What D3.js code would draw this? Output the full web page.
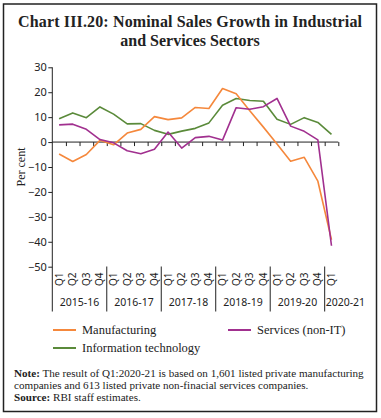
<!DOCTYPE html>
<html><head><meta charset="utf-8">
<script src="https://cdn.jsdelivr.net/npm/d3@7"></script>
<style>body{margin:0;background:#fff}svg{display:block}</style>
</head><body>
<script>
const years = ["2015-16","2016-17","2017-18","2018-19","2019-20","2020-21"];
const quartersPerYear = [4,4,4,4,4,1];
const manufacturing = [-4.8,-7.8,-5.0,0.7,-1.1,3.6,5.1,10.2,9.0,9.7,13.9,13.5,21.5,19.4,12.6,6.0,-0.8,-7.7,-6.1,-15.7,-39.2];
const servicesNonIT = [6.9,7.2,5.1,1.0,-0.3,-3.5,-4.7,-2.9,4.0,-2.4,1.8,2.3,0.8,13.8,13.2,14.2,17.5,6.4,4.3,0.9,-41.6];
const infoTech = [9.4,11.7,9.8,14.1,11.2,7.3,7.4,4.7,3.1,4.4,5.5,7.7,14.8,17.5,16.7,16.4,9.2,7.1,9.8,7.9,3.1];
const yTicks = [30,20,10,0,-10,-20,-30,-40,-50];
const seriesNames = ["Manufacturing","Services (non-IT)","Information technology"];
const seriesColors = ["#F5883C","#A1308F","#5A8A3A"];

const W = 381, H = 418;
const svg = d3.select("body").append("svg").attr("width", W).attr("height", H);
svg.append("rect").attr("x",3.5).attr("y",4).attr("width",373).attr("height",407.5)
  .attr("fill","none").attr("stroke","#222").attr("stroke-width",1.5);

const serif = "'Liberation Serif', 'DejaVu Serif', serif";
const sans = "'Noto Sans', 'Open Sans', sans-serif";
const fs = 16;
svg.append("text").attr("x",190).attr("y",27).attr("text-anchor","middle")
  .attr("font-family",serif).attr("font-weight","bold").attr("font-size",fs).attr("fill","#222")
  .attr("textLength",344).attr("lengthAdjust","spacing")
  .text("Chart III.20: Nominal Sales Growth in Industrial");
svg.append("text").attr("x",190).attr("y",45.5).attr("text-anchor","middle")
  .attr("font-family",serif).attr("font-weight","bold").attr("font-size",fs).attr("fill","#222")
  .text("and Services Sectors");

const labels = [];
years.forEach((yr,i)=>{ for(let q=1;q<=quartersPerYear[i];q++) labels.push({yr,q:"Q"+q}); });
const n = labels.length;
const x0 = 52.3, x1 = 338.3;
const xb = d3.scaleBand().domain(d3.range(n)).range([x0,x1]).padding(0);
const xl = d3.scaleLinear().domain([0,n]).range([x0,x1]);
const y = d3.scaleLinear().domain([-50,30]).range([266.7,67.3]);
const cx = i => xb(i)+xb.bandwidth()/2;

const ya = svg.append("g").attr("transform",`translate(${x0},0)`)
  .call(d3.axisLeft(y).tickValues(yTicks).tickSize(4).tickPadding(1.5));
ya.select(".domain").remove();
ya.selectAll(".tick line").attr("stroke","#222");
ya.selectAll("text").attr("font-family",sans).attr("font-size",11).attr("fill","#222");
svg.append("line").attr("x1",x0).attr("x2",x0).attr("y1",y(30)).attr("y2",311.5).attr("stroke","#222").attr("stroke-width",1);

svg.append("text").attr("transform",`translate(21,${y(-10)}) rotate(-90)`)
  .attr("text-anchor","middle").attr("dy","0.35em").attr("font-family",serif).attr("font-size",12).attr("fill","#222").text("Per cent");

const xa = svg.append("g").attr("transform",`translate(0,${y(0)})`)
  .call(d3.axisBottom(xl).tickValues(d3.range(1,n+1)).tickSize(4).tickFormat(""));
xa.select(".domain").attr("d",`M${x0},0H${x1}`).attr("stroke","#222");
xa.selectAll(".tick line").attr("stroke","#222");

svg.append("g").selectAll("text").data(labels).join("text")
  .attr("transform",(d,i)=>`translate(${cx(i)},272.5) rotate(-90)`)
  .attr("text-anchor","end").attr("dy","0.35em")
  .attr("font-family",sans).attr("font-size",10).attr("fill","#222").text(d=>d.q);

let acc = 0;
years.forEach((yr,i)=>{
  const start = acc, end = acc+quartersPerYear[i];
  const last = i===years.length-1;
  if(i>0) svg.append("line").attr("x1",xl(start)).attr("x2",xl(start)).attr("y1",266.5).attr("y2",311.5).attr("stroke","#222");
  svg.append("text").attr("x", last ? xl(start)+1 : (xl(start)+xl(end))/2).attr("y",306)
    .attr("text-anchor", last ? "start" : "middle").attr("font-family",sans).attr("font-size",10.5).attr("fill","#222").text(yr);
  acc = end;
});

const series = [manufacturing, servicesNonIT, infoTech];
const line = d3.line().x((d,i)=>cx(i)).y(d=>y(d));
[2,0,1].forEach(k=>{
  svg.append("path").datum(series[k]).attr("d",line).attr("fill","none")
    .attr("stroke",seriesColors[k]).attr("stroke-width",1.6).attr("stroke-linejoin","round");
});

const legPos = [[53,330],[228,330],[53,348]];
seriesNames.forEach((nm,k)=>{
  const [lx,ly] = legPos[k];
  svg.append("line").attr("x1",lx).attr("x2",lx+23).attr("y1",ly).attr("y2",ly)
    .attr("stroke",seriesColors[k]).attr("stroke-width",2);
  svg.append("text").attr("x",lx+29).attr("y",ly+4.3).attr("font-family",serif).attr("font-size",12.5)
    .attr("fill","#222").text(nm);
});

const n1 = svg.append("text").attr("x",14).attr("y",377).attr("font-family",serif).attr("font-size",9).attr("fill","#222");
n1.append("tspan").attr("font-weight","bold").text("Note:");
n1.append("tspan").text(" The result of Q1:2020-21 is based on 1,601 listed private manufacturing");
const nfs = 9*350/n1.node().getComputedTextLength();
n1.attr("font-size",nfs);
svg.append("text").attr("x",14).attr("y",388.5).attr("font-family",serif).attr("font-size",nfs).attr("fill","#222")
  .text("companies and 613 listed private non-finacial services companies.");
const n3 = svg.append("text").attr("x",14).attr("y",400.5).attr("font-family",serif).attr("font-size",nfs).attr("fill","#222");
n3.append("tspan").attr("font-weight","bold").text("Source:");
n3.append("tspan").text(" RBI staff estimates.");
</script>
</body></html>
